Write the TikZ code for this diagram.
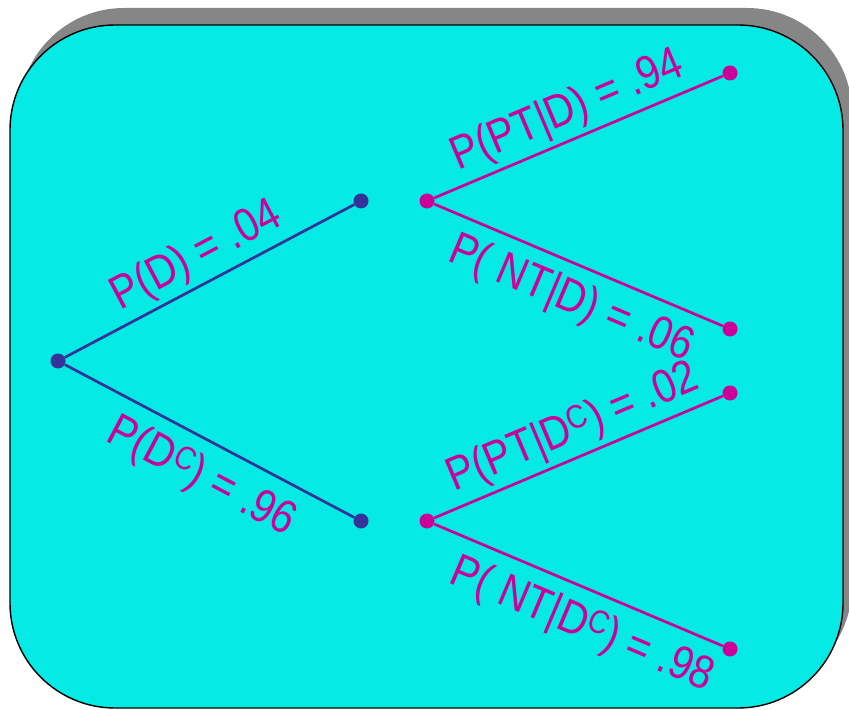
\documentclass[tikz,border=0pt]{standalone}
\usepackage{fontspec}
\setmainfont{Liberation Sans}
\newfontfamily\probfont[FakeStretch=0.86]{Liberation Sans}
\usetikzlibrary{positioning}
\definecolor{panel}{HTML}{05EAE4}
\definecolor{branchblue}{HTML}{333399}
\definecolor{probpink}{HTML}{CC0099}
\tikzstyle{dot} = [circle, inner sep=0pt, minimum size=0.45cm]
\tikzstyle{bluedot} = [dot, fill=branchblue]
\tikzstyle{pinkdot} = [dot, fill=probpink]
\tikzstyle{blueline} = [line width=2.3pt, draw=branchblue]
\tikzstyle{pinkline} = [line width=2.3pt, draw=probpink]
\tikzstyle{prob} = [midway, sloped, inner sep=4pt, text=probpink, font=\probfont\fontsize{40}{44}\selectfont]

\begin{document}
\begin{tikzpicture}[x=0.03cm, y=-0.03cm]
    \useasboundingbox (0,0) rectangle (849,710);

    % Panel with shadow
    \fill[gray!95, rounded corners=3.15cm] (19,8) rectangle (852,691);
    \draw[fill=panel, line width=1.2pt, rounded corners=3.15cm] (10,25) rectangle (843,708);

    % First stage
    \node (root) [bluedot] at (58,361) {};
    \node (d) [bluedot] at (361,201) {};
    \node (dc) [bluedot] at (361,521) {};

    % Second stage
    \node (dstart) [pinkdot] at (427,201) {};
    \node (dcstart) [pinkdot] at (427,521) {};
    \node (dpt) [pinkdot] at (730,73) {};
    \node (dnt) [pinkdot] at (730,329) {};
    \node (dcpt) [pinkdot] at (730,393) {};
    \node (dcnt) [pinkdot] at (730,649) {};

    % Branches
    \draw [blueline] (root) -- node[prob, above] {P(D) = .04} (d);
    \draw [blueline] (root) -- node[prob, below=7pt, pos=0.53] {P(D\textsuperscript{C}) = .96} (dc);
    \draw [pinkline] (dstart) -- node[prob, above] {P(PT|D) = .94} (dpt);
    \draw [pinkline] (dstart) -- node[prob, below=6pt, pos=0.52] {P( NT|D) = .06} (dnt);
    \draw [pinkline] (dcstart) -- node[prob, above, pos=0.52] {P(PT|D\textsuperscript{C}) = .02} (dcpt);
    \draw [pinkline] (dcstart) -- node[prob, below=7pt, pos=0.56] {P( NT|D\textsuperscript{C}) = .98} (dcnt);
\end{tikzpicture}
\end{document}
